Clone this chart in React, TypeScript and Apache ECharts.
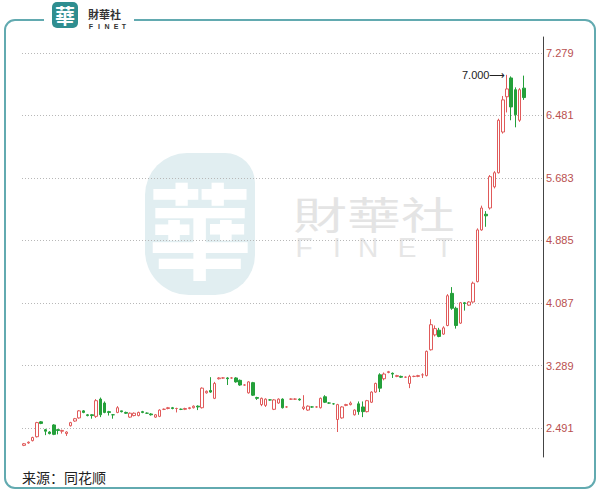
import React, { useEffect, useRef } from "react";
import * as echarts from "echarts";

// Daily candles (price, CNY)
const openP = [
  2.27, 2.30, 2.33, 2.38, 2.57, 2.47, 2.44, 2.53, 2.47, 2.45, 2.42, 2.52, 2.58, 2.62, 2.71, 2.66, 2.66, 2.64, 2.86, 2.81,
  2.70, 2.66, 2.69, 2.71, 2.69, 2.63, 2.65, 2.65, 2.70, 2.68, 2.67, 2.63, 2.64, 2.73, 2.74, 2.75, 2.74, 2.73, 2.73, 2.74,
  2.75, 2.77, 2.75, 2.94, 2.97, 2.87, 3.12, 3.13, 3.13, 3.13, 3.13, 3.10, 3.04, 2.94, 3.07, 2.88, 2.79, 2.78, 2.85, 2.73,
  2.81, 2.86, 2.76, 2.86, 2.86, 2.86, 2.74, 2.72, 2.76, 2.76, 2.75, 2.89, 2.81, 2.80, 2.60, 2.62, 2.78, 2.79, 2.66, 2.80,
  2.76, 2.70, 2.82, 2.95, 3.17, 3.12, 3.20, 3.19, 3.15, 3.15, 3.14, 3.06, 3.15, 3.15, 3.17, 3.16, 3.49, 3.68, 3.74, 3.69,
  3.80, 4.21, 4.02, 3.83, 4.09, 4.06, 4.10, 4.36, 5.02, 5.22, 5.30, 5.57, 5.75, 6.27, 6.72, 6.96, 6.81, 6.42, 6.83,
];
const closeP = [
  2.29, 2.31, 2.37, 2.56, 2.55, 2.45, 2.42, 2.41, 2.46, 2.46, 2.44, 2.56, 2.61, 2.71, 2.69, 2.65, 2.65, 2.84, 2.66, 2.69,
  2.69, 2.66, 2.75, 2.70, 2.68, 2.68, 2.68, 2.69, 2.69, 2.68, 2.66, 2.66, 2.72, 2.73, 2.75, 2.74, 2.74, 2.73, 2.74, 2.75,
  2.77, 2.76, 3.00, 2.96, 2.95, 3.06, 3.13, 3.13, 3.12, 3.13, 3.08, 3.04, 3.04, 3.08, 2.91, 2.87, 2.87, 2.86, 2.85, 2.85,
  2.86, 2.75, 2.76, 2.86, 2.86, 2.85, 2.76, 2.77, 2.76, 2.76, 2.87, 2.82, 2.81, 2.80, 2.79, 2.76, 2.79, 2.81, 2.72, 2.70,
  2.70, 2.84, 2.95, 3.06, 3.00, 3.18, 3.21, 3.18, 3.16, 3.14, 3.14, 3.15, 3.15, 3.16, 3.17, 3.47, 3.81, 3.76, 3.66, 3.77,
  4.18, 4.02, 3.80, 4.09, 4.08, 4.10, 4.34, 5.02, 5.30, 5.20, 5.70, 5.75, 6.42, 6.68, 6.82, 6.59, 6.49, 6.81, 6.71,
];
const lowP = [
  2.26, 2.29, 2.32, 2.37, 2.54, 2.40, 2.41, 2.40, 2.41, 2.42, 2.39, 2.51, 2.57, 2.61, 2.68, 2.64, 2.61, 2.62, 2.63, 2.68,
  2.65, 2.61, 2.68, 2.69, 2.67, 2.62, 2.64, 2.64, 2.68, 2.67, 2.65, 2.62, 2.63, 2.72, 2.73, 2.73, 2.69, 2.72, 2.72, 2.73,
  2.74, 2.72, 2.74, 2.93, 2.94, 2.86, 3.11, 3.12, 3.04, 3.12, 3.07, 3.03, 3.03, 2.93, 2.90, 2.85, 2.77, 2.76, 2.84, 2.72,
  2.80, 2.74, 2.75, 2.85, 2.85, 2.84, 2.72, 2.71, 2.75, 2.75, 2.74, 2.81, 2.80, 2.79, 2.44, 2.61, 2.77, 2.78, 2.65, 2.66,
  2.63, 2.69, 2.81, 2.94, 2.95, 3.10, 3.19, 3.13, 3.14, 3.13, 3.13, 3.00, 3.14, 3.14, 3.13, 3.15, 3.48, 3.66, 3.65, 3.68,
  3.79, 4.00, 3.76, 3.82, 3.99, 4.05, 4.09, 4.35, 5.01, 5.06, 5.28, 5.55, 5.74, 6.25, 6.52, 6.42, 6.33, 6.40, 6.68,
];
const highP = [
  2.30, 2.32, 2.38, 2.57, 2.58, 2.48, 2.45, 2.54, 2.48, 2.47, 2.45, 2.57, 2.62, 2.72, 2.72, 2.67, 2.67, 2.86, 2.88, 2.83,
  2.71, 2.67, 2.77, 2.71, 2.70, 2.69, 2.69, 2.70, 2.71, 2.69, 2.68, 2.67, 2.73, 2.74, 2.76, 2.76, 2.75, 2.74, 2.75, 2.76,
  2.78, 2.78, 3.01, 2.97, 3.14, 3.08, 3.14, 3.14, 3.14, 3.14, 3.14, 3.11, 3.05, 3.09, 3.08, 2.89, 2.88, 2.87, 2.86, 2.86,
  2.87, 2.87, 2.77, 2.87, 2.87, 2.87, 2.91, 2.78, 2.77, 2.77, 2.88, 2.91, 2.82, 2.81, 2.80, 2.77, 2.80, 2.83, 2.73, 2.83,
  2.83, 2.85, 2.96, 3.07, 3.19, 3.20, 3.22, 3.20, 3.17, 3.16, 3.15, 3.17, 3.16, 3.17, 3.19, 3.48, 3.88, 3.80, 3.77, 3.79,
  4.20, 4.29, 4.04, 4.10, 4.10, 4.11, 4.36, 5.04, 5.33, 5.26, 5.72, 5.77, 6.44, 6.73, 7.00, 6.98, 6.84, 6.83, 6.99,
];
const yTicks = [2.491, 3.289, 4.087, 4.885, 5.683, 6.481, 7.279];
const Y_MIN = 2.121;
const Y_MAX = 7.483;
const EMPTY_SLOTS = 4;
const days = openP.map((_, i) => `D${i + 1}`).concat(Array(EMPTY_SLOTS).fill(""));

const RED = "#e05a5a";
const GREEN = "#24a03a";

export default function App() {
  const ref = useRef<HTMLDivElement>(null);
  useEffect(() => {
    if (!ref.current) return;
    const chart = echarts.init(ref.current, null, { renderer: "svg" });
    const data = openP.map((o, i) => [o, closeP[i], lowP[i], highP[i]]);
    const letters = ["F", "I", "N", "E", "T"];
    chart.setOption({
      animation: false,
      backgroundColor: "#fff",
      grid: { left: 22, right: 57, top: 37, bottom: 38 },
      xAxis: {
        type: "category",
        data: days,
        show: false,
        boundaryGap: true,
      },
      yAxis: {
        type: "value",
        position: "right",
        min: Y_MIN,
        max: Y_MAX,
        scale: true,
        axisLine: { show: true, lineStyle: { color: "#444", width: 1 } },
        axisTick: { show: false, customValues: yTicks },
        axisLabel: {
          customValues: yTicks,
          formatter: (v: number) => v.toFixed(3),
          color: "#b9504f",
          fontSize: 11,
          fontFamily: "Liberation Sans, Arial",
          margin: 3,
        },
        splitLine: { show: true, lineStyle: { type: [1, 2], color: "#b8b8b8", width: 1 } },
      },
      series: [
        {
          type: "candlestick",
          data,
          barWidth: 3,
          itemStyle: {
            color: "#ffffff",
            color0: GREEN,
            borderColor: RED,
            borderColor0: GREEN,
            borderWidth: 1,
          },
          markPoint: {
            symbol: "circle",
            symbolSize: 1,
            itemStyle: { color: "rgba(0,0,0,0)" },
            data: [{ type: "max", valueDim: "highest", name: "max" }],
            label: {
              show: true,
              position: "left",
              distance: 1,
              formatter: (p: any) => `${Number(p.value).toFixed(3)}\u27F6`,
              color: "#222",
              fontSize: 11,
              fontFamily: "Liberation Sans, Arial",
            },
          },
        },
      ],
      graphic: [
        // watermark
        {
          type: "rect",
          z: -10,
          shape: { x: 145, y: 153, width: 110, height: 142, r: [42, 30, 40, 44] },
          style: { fill: "#e1eef1" },
        },
        {
          type: "text",
          z: -9,
          x: 200,
          y: 226,
          style: {
            text: "華",
            fill: "#ffffff",
            font: 'bold 104px "Noto Sans CJK TC"',
            align: "center",
            verticalAlign: "middle",
          },
        },
        {
          type: "text",
          z: -9,
          x: 293,
          y: 212,
          scaleX: 1.42,
          style: {
            text: "財華社",
            fill: "#e4e4e4",
            font: '38px "Noto Sans CJK TC"',
            verticalAlign: "middle",
          },
        },
        ...letters.map((ch, k) => ({
          type: "text",
          z: -9,
          x: [304, 337, 368, 407, 444][k],
          y: 247,
          style: {
            text: ch,
            fill: "#e6e6e6",
            font: '28px "Liberation Sans"',
            align: "center",
            verticalAlign: "middle",
          },
        })),
        // frame
        {
          type: "rect",
          z: 20,
          shape: { x: 5, y: 20, width: 590, height: 468, r: 10 },
          style: { fill: "none", stroke: "#62aab0", lineWidth: 2 },
        },
        {
          type: "rect",
          z: 21,
          shape: { x: 44, y: 12, width: 90, height: 16 },
          style: { fill: "#ffffff" },
        },
        // top logo
        {
          type: "rect",
          z: 22,
          shape: { x: 52, y: 2, width: 26, height: 26, r: 5 },
          style: { fill: "#2f8e90" },
        },
        {
          type: "text",
          z: 23,
          x: 65,
          y: 15,
          style: {
            text: "華",
            fill: "#ffffff",
            font: 'bold 20px "Noto Sans CJK TC"',
            align: "center",
            verticalAlign: "middle",
          },
        },
        {
          type: "text",
          z: 23,
          x: 88,
          y: 14,
          style: {
            text: "財華社",
            fill: "#333",
            font: 'bold 11px "Noto Sans CJK TC"',
            verticalAlign: "middle",
          },
        },
        ...letters.map((ch, k) => ({
          type: "text",
          z: 23,
          x: [91, 99, 107, 116, 124][k],
          y: 26,
          style: {
            text: ch,
            fill: "#333",
            font: 'bold 7px "Liberation Sans"',
            align: "center",
            verticalAlign: "middle",
          },
        })),
        // source caption
        {
          type: "text",
          z: 23,
          x: 22,
          y: 477,
          style: {
            text: "来源：同花顺",
            fill: "#222",
            font: '14px "Noto Sans CJK SC"',
            verticalAlign: "middle",
          },
        },
      ],
    });
    return () => chart.dispose();
  }, []);
  return (
    <div
      ref={ref}
      style={{ position: "absolute", left: 0, top: 0, width: 600, height: 495, background: "#fff" }}
    />
  );
}
